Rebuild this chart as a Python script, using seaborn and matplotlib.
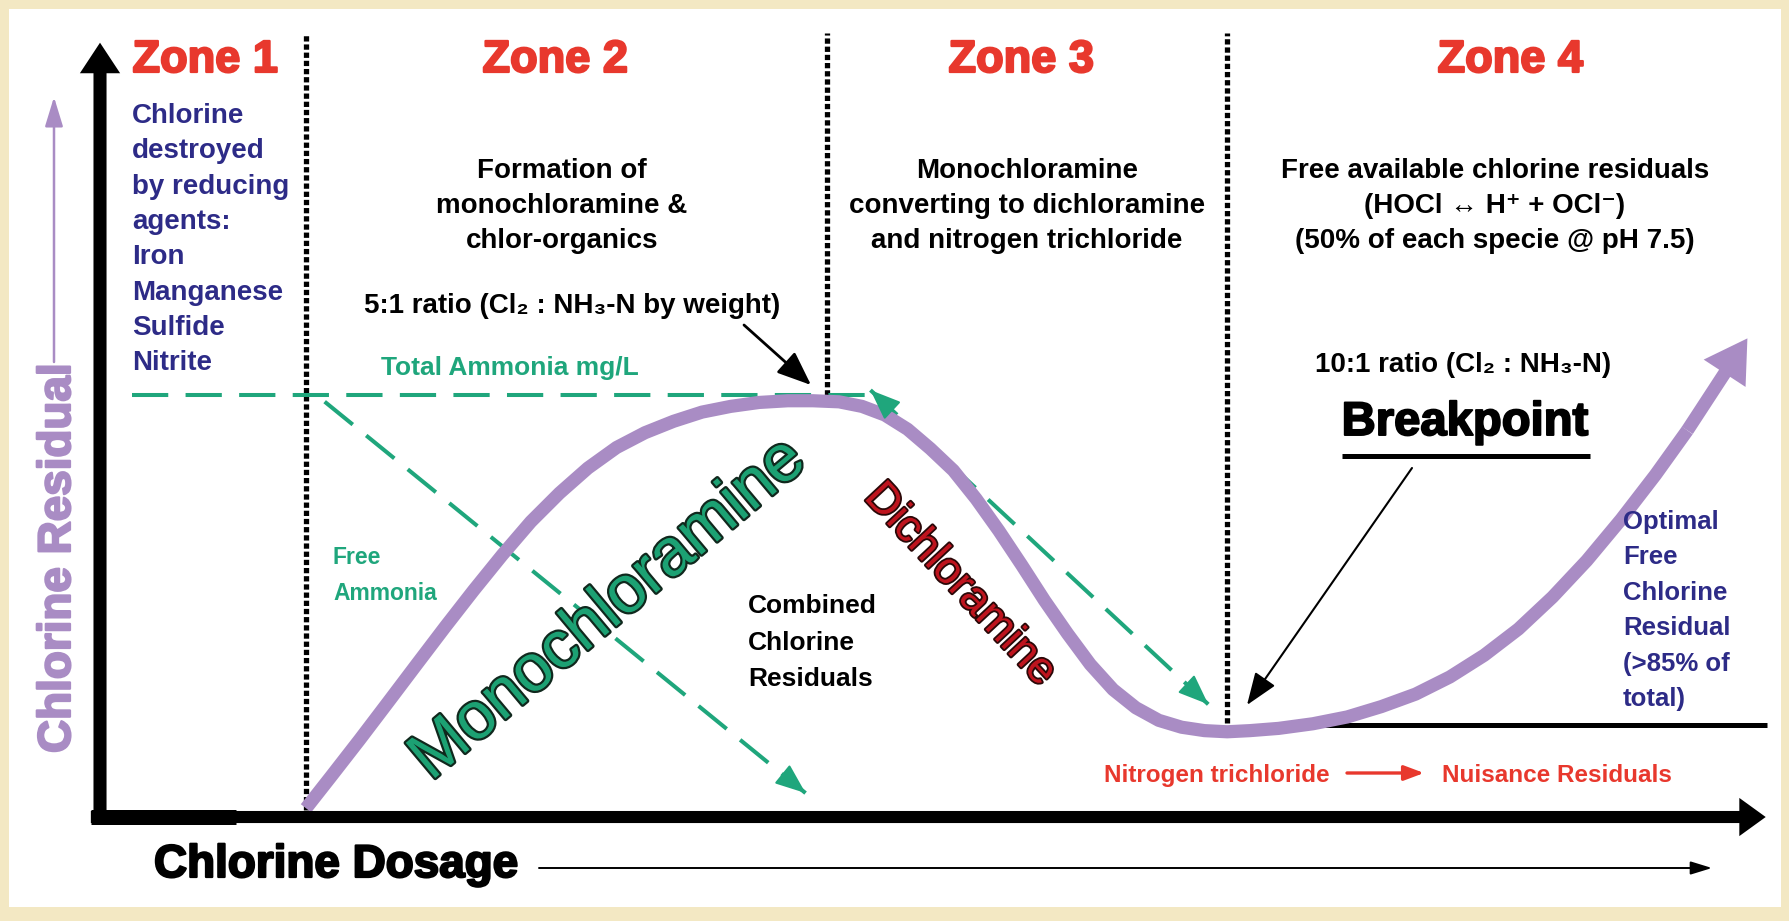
import matplotlib
matplotlib.use("Agg")
import matplotlib.pyplot as plt
import matplotlib.patheffects as pe
from matplotlib.patches import Rectangle
from matplotlib.transforms import Affine2D
import pandas as pd
import seaborn as sns

# breakpoint curve, chlorine dosage vs chlorine residual (axis units 0-100)
dose = [12.38, 13.89, 15.60, 17.32, 19.03, 20.75, 22.46, 24.18, 25.89, 27.61,
        29.32, 31.04, 32.75, 34.47, 36.18, 37.90, 39.61, 41.33, 42.84, 44.42,
        45.79, 47.16, 48.53, 49.90, 51.28, 52.65, 54.02, 55.39, 56.76, 58.14,
        59.51, 60.88, 62.25, 63.63, 65.00, 66.37, 67.74, 69.11, 70.83, 72.89,
        74.95, 77.00, 79.06, 81.12, 83.18, 85.24, 87.29, 89.35, 91.41, 93.47,
        95.39]
residual = [1.13, 5.27, 10.01, 14.89, 19.77, 24.65, 29.38, 33.96, 38.25, 41.95,
            45.20, 47.86, 49.78, 51.26, 52.45, 53.19, 53.70, 53.92, 53.92, 53.78,
            53.19, 52.08, 50.23, 47.71, 44.90, 41.21, 37.07, 32.63, 28.05, 23.76,
            19.77, 16.51, 14.15, 12.52, 11.63, 11.19, 11.04, 11.19, 11.48, 12.08,
            12.96, 14.30, 15.92, 18.14, 20.95, 24.35, 28.49, 33.22, 38.55, 44.31,
            50.08]
curve_tip = (99.0, 62.0)

zone_names = ["Zone 1", "Zone 2", "Zone 3", "Zone 4"]
zone_edges = [12.4, 43.7, 67.7]
zone_edge_bottom = [0.9, 54.7, 12.2]
zone_edge_top = 101.5

total_ammonia_level = 54.7
total_ammonia_dose = [1.9, 46.0]
free_ammonia_dose = [13.5, 42.4]
free_ammonia_res = [53.8, 3.1]
combined_dose = [46.3, 66.6]
combined_res = [55.3, 14.6]
free_residual_level = 11.9
free_residual_dose = [71.9, 100.2]

zone_text = [
    "Chlorine\ndestroyed\nby reducing\nagents:\nIron\nManganese\nSulfide\nNitrite",
    "Formation of\nmonochloramine &\nchlor-organics",
    "Monochloramine\nconverting to dichloramine\nand nitrogen trichloride",
    "Free available chlorine residuals\n(HOCl \u2194 H\u207a + OCl\u207b)\n(50% of each specie @ pH 7.5)",
]

PURPLE = "#A98CC4"
GREEN = "#1FA67C"
RED = "#E8382D"
NAVY = "#2D2B87"
BEIGE = "#F3E8C3"

sns.set_theme(style="white")
plt.rcParams["font.family"] = ["Liberation Sans", "DejaVu Sans"]
SANS = ["Liberation Sans", "DejaVu Sans"]
NARROW = ["Liberation Sans Narrow", "Liberation Sans", "DejaVu Sans"]

W, H = 1790, 921
fig = plt.figure(figsize=(W / 100, H / 100), dpi=100)
fig.patch.set_facecolor(BEIGE)
ax = fig.add_axes([0, 0, 1, 1])
ax.set_xlim(-6.01, 101.56)
ax.set_ylim(-13.47, 105.83)
ax.axis("off")

# pixel transform (origin top-left) for layout of labels
PX = Affine2D().scale(1, -1).translate(0, H)

ax.add_patch(Rectangle((9, 9), 1772, 898, transform=PX, facecolor="white",
                       edgecolor="none", zorder=0))

# axes arrows
ax.annotate("", xy=(0, 100.3), xytext=(0, -0.7),
            arrowprops=dict(arrowstyle="simple,head_length=2.2,head_width=2.9,tail_width=0.94",
                            mutation_scale=10, color="black", lw=0, shrinkA=0, shrinkB=0), zorder=5)
ax.annotate("", xy=(100.1, 0), xytext=(-0.55, 0),
            arrowprops=dict(arrowstyle="simple,head_length=1.9,head_width=2.75,tail_width=0.87",
                            mutation_scale=10, color="black", lw=0, shrinkA=0, shrinkB=0), zorder=5)
ax.plot([-0.55, 8.2], [0, 0], color="black", lw=10.8, solid_capstyle="butt", zorder=5)

# zone boundaries
for e, b in zip(zone_edges, zone_edge_bottom):
    ax.plot([e, e], [b, zone_edge_top], color="black", lw=3.8,
            linestyle=(0, (1, 0.55)), dash_capstyle="butt", zorder=3)

# optimal free residual baseline
ax.plot(free_residual_dose, [free_residual_level] * 2, color="black", lw=3.6,
        solid_capstyle="butt", zorder=2)

# ammonia lines
dash = (0, (9, 4.3))
ax.plot(total_ammonia_dose, [total_ammonia_level] * 2, color=GREEN, lw=2.9,
        linestyle=dash, zorder=4)
ax.plot(free_ammonia_dose, free_ammonia_res, color=GREEN, lw=2.9, linestyle=dash, zorder=4)
ax.plot(combined_dose, combined_res, color=GREEN, lw=2.9, linestyle=dash, zorder=4)


def head(x, y, x0, y0, color, hl=1.9, hw=0.75, lw=1.5, frac=0.04):
    back = (x + frac * (x0 - x), y + frac * (y0 - y))
    ax.annotate("", xy=(x, y), xytext=back,
                arrowprops=dict(arrowstyle=f"-|>,head_length={hl},head_width={hw}",
                                mutation_scale=10, color=color, lw=lw,
                                shrinkA=0, shrinkB=0), zorder=6)


head(free_ammonia_dose[1], free_ammonia_res[1], free_ammonia_dose[0], free_ammonia_res[0], GREEN)
head(combined_dose[1], combined_res[1], combined_dose[0], combined_res[0], GREEN, frac=0.06)
head(combined_dose[0], combined_res[0], combined_dose[1], combined_res[1], GREEN, frac=0.06)

# breakpoint curve
curve = pd.DataFrame({"dose": dose, "residual": residual})
sns.lineplot(data=curve, x="dose", y="residual", ax=ax, color=PURPLE, lw=9.5,
             estimator=None, sort=False, zorder=4)
for ln in ax.lines[-1:]:
    ln.set_solid_joinstyle("round")
    ln.set_solid_capstyle("butt")
ax.annotate("", xy=curve_tip, xytext=(dose[-1], residual[-1]),
            arrowprops=dict(arrowstyle="simple,head_length=3.0,head_width=3.6,tail_width=0.95",
                            mutation_scale=10, color=PURPLE, lw=0, shrinkA=0, shrinkB=0), zorder=4)


def heavy(color, w=1.3):
    return [pe.withStroke(linewidth=w, foreground=color)]


# zone titles
for name, x in zip(zone_names, [205, 555, 1021, 1510]):
    ax.text(x, 72, name, transform=PX, ha="center", va="baseline", color=RED,
            fontsize=32.5, fontweight="bold", family=SANS, path_effects=heavy(RED, 1.6))


def lines(txt, x, y0, step, ha, color, size, family=SANS, fx=None):
    for i, s in enumerate(txt.split("\n")):
        ax.text(x, y0 + i * step, s, transform=PX, ha=ha, va="baseline", color=color,
                fontsize=size, fontweight="bold", family=family, zorder=7,
                path_effects=fx)


lines(zone_text[0], 132, 123, 35.3, "left", NAVY, 20)
lines(zone_text[1], 562, 178, 35, "center", "black", 20)
lines(zone_text[2], 1027, 178, 35, "center", "black", 20)
lines(zone_text[3], 1495, 178, 35, "center", "black", 20)

lines("5:1 ratio (Cl\u2082 : NH\u2083-N by weight)", 572, 313, 0, "center", "black", 20)
lines("Total Ammonia mg/L", 510, 375, 0, "center", GREEN, 19, NARROW)
lines("Free\nAmmonia", 333, 564, 36, "left", GREEN, 16.5)
lines("Combined\nChlorine\nResiduals", 748, 613, 36.5, "left", "black", 19)
lines("Optimal\nFree\nChlorine\nResidual\n(>85% of\ntotal)", 1623, 529, 35.4, "left", NAVY, 18.5)
lines("10:1 ratio (Cl\u2082 : NH\u2083-N)", 1463, 372, 0, "center", "black", 20)
lines("Breakpoint", 1465, 435, 0, "center", "black", 34, fx=heavy("black", 1.4))
ax.plot([1342, 1590], [456, 456], transform=PX, color="black", lw=3.6, solid_capstyle="butt")
lines("Nitrogen trichloride", 1104, 782, 0, "left", RED, 17.5)
lines("Nuisance Residuals", 1442, 782, 0, "left", RED, 17.5)
lines("Chlorine Dosage", 154, 877, 0, "left", "black", 33, fx=heavy("black", 1.6))

ax.text(70, 753, "Chlorine Residual", transform=PX, rotation=90, rotation_mode="anchor",
        ha="left", va="baseline", color=PURPLE, fontsize=33, fontweight="bold", family=SANS,
        path_effects=heavy(PURPLE, 1.6))

# curve labels
ax.text(609, 610, "Monochloramine", transform=PX, rotation=40, ha="center", va="center",
        fontsize=48, color="#1CA173", family=SANS, zorder=8,
        path_effects=[pe.withStroke(linewidth=3.2, foreground="#10281d")])
ax.text(960, 585, "Dichloramine", transform=PX, rotation=-47, ha="center", va="center",
        fontsize=32, color="#BE141E", family=SANS, zorder=8,
        path_effects=[pe.withStroke(linewidth=2.6, foreground="#2a0808")])

# pointer arrows
def pointer(x0, y0, x1, y1, color="black", lw=1.8, hl=1.8, hw=0.7):
    ax.annotate("", xy=(x1, y1), xytext=(x0, y0), xycoords=PX, textcoords=PX,
                arrowprops=dict(arrowstyle=f"-|>,head_length={hl},head_width={hw}",
                                mutation_scale=10, color=color, lw=lw,
                                shrinkA=0, shrinkB=0), zorder=7)


pointer(744, 325, 811, 385, lw=2.0, hl=2.1, hw=0.85)
pointer(1412, 468, 1247, 705, lw=1.5, hl=2.0, hw=0.75)
pointer(1347, 773, 1424, 773, color=RED, lw=2.4, hl=1.2, hw=0.45)
pointer(539, 868, 1712, 868, lw=1.4, hl=1.3, hw=0.4)
pointer(54, 362, 54, 97, color=PURPLE, lw=1.8, hl=1.8, hw=0.55)

fig.savefig("out.png", dpi=100, facecolor=BEIGE)
